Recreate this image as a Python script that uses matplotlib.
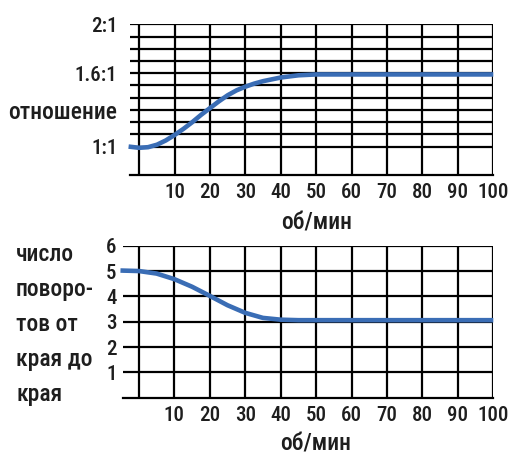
import matplotlib
matplotlib.use('Agg')
import matplotlib.pyplot as plt

plt.rcParams['font.family'] = ['Roboto Condensed', 'DejaVu Sans']
plt.rcParams['font.weight'] = 500

# верхний график: отношение
ratio_x = [-3, 0, 2.5, 5, 7.5, 10, 12.5, 15, 17.5, 20, 22.5, 25, 27.5, 30, 32.5, 35, 40, 45, 50, 55, 100]
ratio_y = [1.00, 0.99, 0.995, 1.015, 1.05, 1.095, 1.145, 1.20, 1.26, 1.315, 1.37, 1.42, 1.46, 1.49,
           1.515, 1.535, 1.565, 1.583, 1.59, 1.59, 1.59]
ratio_grid = [1.0, 1.1, 1.2, 1.3, 1.4, 1.5, 1.6, 1.7, 1.8, 1.9, 2.0]
ratio_ticks = [1.0, 1.3, 1.6, 2.0]
ratio_labels = ['1:1', 'отношение', '1.6:1', '2:1']

# нижний график: число поворотов от края до края
turns_x = [-5.2, 0, 5, 10, 15, 20, 25, 30, 35, 40, 45, 100]
turns_y = [5.02, 5.0, 4.9, 4.68, 4.38, 4.02, 3.65, 3.35, 3.15, 3.08, 3.06, 3.06]
turns_ticks = [1, 2, 3, 4, 5, 6]
turns_title = ['число', 'поворо-', 'тов от', 'края до', 'края']

rpm_ticks = [0, 10, 20, 30, 40, 50, 60, 70, 80, 90, 100]
rpm_labels = ['', '10', '20', '30', '40', '50', '60', '70', '80', '90', '100']

blue = '#3a6db5'
ink = '#1e1e1e'
grid_lw = 1.6
fs_num = 15    # цифры
fs_word = 17   # слова

fig = plt.figure(figsize=(5.1, 4.58), dpi=100)

def setup(ax, xleft, label_y):
    ax.set_xlim(xleft, 100)
    ax.set_xticks(rpm_ticks)
    ax.set_xticklabels(rpm_labels)
    ax.grid(True, which='both', color='black', lw=grid_lw)
    ax.set_axisbelow(True)
    for s in ['top', 'left', 'right']:
        ax.spines[s].set_visible(False)
    ax.spines['bottom'].set_linewidth(grid_lw)
    ax.tick_params(which='both', length=0, labelsize=fs_num, labelcolor=ink)
    ax.tick_params(axis='x', pad=6)
    ax.text(50, label_y, 'об/мин', fontsize=fs_word, color=ink, ha='center', va='baseline',
            transform=ax.get_xaxis_transform())

ax1 = fig.add_axes([130 / 510, 1 - 174.7 / 458, (493.3 - 130) / 510, (174.7 - 24.3) / 458])
setup(ax1, -2.6, -0.365)
ax1.set_ylim(0.77, 2.0)
ax1.set_yticks(ratio_grid, minor=True)
ax1.set_yticks(ratio_ticks)
ax1.set_yticklabels(ratio_labels)
ax1.get_yticklabels()[1].set_fontsize(fs_word)
ax1.tick_params(axis='y', pad=9)
ax1.plot(ratio_x, ratio_y, color=blue, lw=3.3, solid_capstyle='butt', clip_on=False, zorder=3)

ax2 = fig.add_axes([123.3 / 510, 1 - 397.7 / 458, (493.3 - 123.3) / 510, (397.7 - 245.7) / 458])
setup(ax2, -4.4, -0.35)
ax2.set_ylim(0, 6)
ax2.set_yticks(turns_ticks)
ax2.tick_params(axis='y', pad=5)
ax2.plot(turns_x, turns_y, color=blue, lw=3.3, solid_capstyle='butt', clip_on=False, zorder=3)

for i, line in enumerate(turns_title):
    fig.text(16 / 510, 1 - (261 + 35 * i) / 458, line, fontsize=fs_word, color=ink,
             ha='left', va='baseline')

fig.savefig('out.png', dpi=100)
